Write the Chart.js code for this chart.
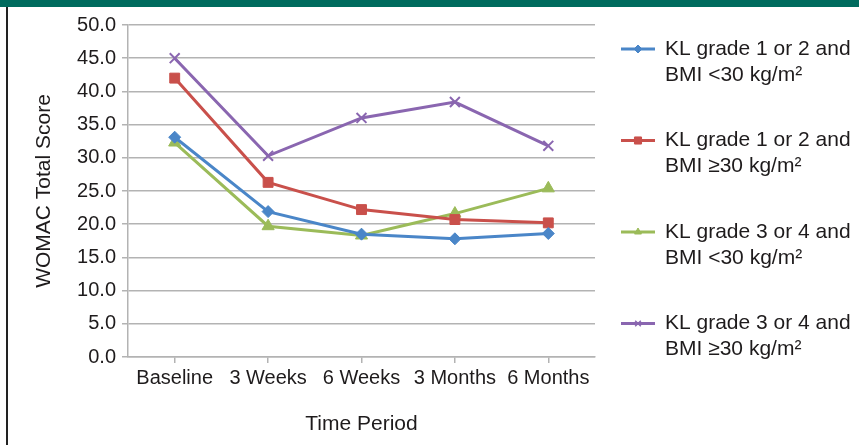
<!DOCTYPE html>
<html>
<head>
<meta charset="utf-8">
<script src="https://cdn.jsdelivr.net/npm/chart.js@4/dist/chart.umd.min.js"></script>
<style>
  html, body { margin: 0; padding: 0; background: #fff; }
  #wrap { position: relative; width: 859px; height: 445px; overflow: hidden; }
  #topbar { position: absolute; left: 0; top: 0; width: 859px; height: 7px; background: #006b5e; }
  #leftrule { position: absolute; left: 6px; top: 7px; width: 1.5px; height: 438px; background: #222; }
  canvas { position: absolute; left: 0; top: 0; }
</style>
</head>
<body>
<div id="wrap">
  <canvas id="chart" width="859" height="445"></canvas>
  <div id="topbar"></div>
  <div id="leftrule"></div>
</div>
<script>
// Time points and mean WOMAC total scores per subgroup
const periods = ["Baseline", "3 Weeks", "6 Weeks", "3 Months", "6 Months"];
const klLowBmiLow   = [33.1, 21.9, 18.5, 17.8, 18.6];
const klLowBmiHigh  = [42.0, 26.3, 22.2, 20.7, 20.2];
const klHighBmiLow  = [32.3, 19.7, 18.3, 21.6, 25.4];
const klHighBmiHigh = [45.0, 30.3, 36.0, 38.4, 31.8];
const seriesNames = [
  ["KL grade 1 or 2 and", "BMI <30 kg/m\u00B2"],
  ["KL grade 1 or 2 and", "BMI \u226530 kg/m\u00B2"],
  ["KL grade 3 or 4 and", "BMI <30 kg/m\u00B2"],
  ["KL grade 3 or 4 and", "BMI \u226530 kg/m\u00B2"]
];
const yTicks = [0, 5, 10, 15, 20, 25, 30, 35, 40, 45, 50];

const FONT = "'Liberation Sans', Arial, Helvetica, sans-serif";
const TEXT = "#1e1b1c";
const GRID = "#b3b3b3";

const styles = [
  { color: "#4a86c8", point: "rectRot",  radius: 6 },
  { color: "#c9504b", point: "rect",     radius: 7 },
  { color: "#9bbb59", point: "triangle", radius: 7 },
  { color: "#8a66b0", point: "crossRot", radius: 7 }
];
const values = [klLowBmiLow, klLowBmiHigh, klHighBmiLow, klHighBmiHigh];

const datasets = values.map((v, i) => ({
  label: seriesNames[i].join(" "),
  data: v,
  borderColor: styles[i].color,
  backgroundColor: styles[i].color,
  borderWidth: 3,
  pointStyle: styles[i].point,
  pointRadius: styles[i].radius,
  pointBorderWidth: styles[i].point === "crossRot" ? 2 : 1,
  pointBorderColor: styles[i].color,
  pointBackgroundColor: styles[i].color,
  tension: 0,
  fill: false
}));

// Two-line legend on the right, a short line with the series marker
const sideLegend = {
  id: "sideLegend",
  afterDraw(chart) {
    const ctx = chart.ctx;
    ctx.save();
    chart.data.datasets.forEach((ds, i) => {
      const y0 = 49 + i * 91.5;
      ctx.strokeStyle = ds.borderColor;
      ctx.lineWidth = 3;
      ctx.beginPath();
      ctx.moveTo(621, y0);
      ctx.lineTo(655, y0);
      ctx.stroke();
      ctx.fillStyle = ds.borderColor;
      ctx.strokeStyle = ds.borderColor;
      ctx.lineWidth = ds.pointStyle === "crossRot" ? 1.5 : 1;
      Chart.helpers.drawPoint(ctx, {
        pointStyle: ds.pointStyle,
        rotation: 0,
        radius: ds.pointStyle === "rect" ? 5 : 4,
        borderWidth: ds.pointStyle === "crossRot" ? 1.5 : 1
      }, 638, y0);
      ctx.fillStyle = TEXT;
      ctx.font = "21px " + FONT;
      ctx.textAlign = "left";
      ctx.textBaseline = "middle";
      seriesNames[i].forEach((line, k) => ctx.fillText(line, 665, y0 + k * 26));
    });
    ctx.restore();
  }
};

new Chart(document.getElementById("chart"), {
  type: "line",
  data: { labels: periods, datasets },
  options: {
    responsive: false,
    animation: false,
    devicePixelRatio: 1,
    layout: { padding: { left: 0, right: 264, top: 25, bottom: 0 } },
    plugins: { legend: { display: false }, tooltip: { enabled: false } },
    scales: {
      x: {
        offset: true,
        grid: { offset: false, drawOnChartArea: false, color: GRID, tickLength: 6, lineWidth: 1.5 },
        border: { color: GRID, width: 1.5 },
        ticks: { color: TEXT, font: { family: FONT, size: 20 }, padding: 3, maxRotation: 0, autoSkip: false },
        title: { display: true, text: "Time Period", color: TEXT, font: { family: FONT, size: 21 }, padding: { top: 8, bottom: 8 } },
        afterFit(scale) { scale.height = 88; }
      },
      y: {
        min: 0,
        max: 50,
        afterBuildTicks(scale) { scale.ticks = yTicks.map(v => ({ value: v })); },
        grid: { color: GRID, lineWidth: 1.5, tickLength: 6 },
        border: { color: GRID, width: 1.5 },
        ticks: { color: TEXT, font: { family: FONT, size: 20 }, padding: 6, callback: v => v.toFixed(1) },
        title: { display: true, text: "WOMAC Total Score", color: TEXT, font: { family: FONT, size: 21 }, padding: { top: 32, bottom: 0 } },
        afterFit(scale) { scale.width = 128; }
      }
    }
  },
  plugins: [sideLegend]
});
</script>
</body>
</html>
